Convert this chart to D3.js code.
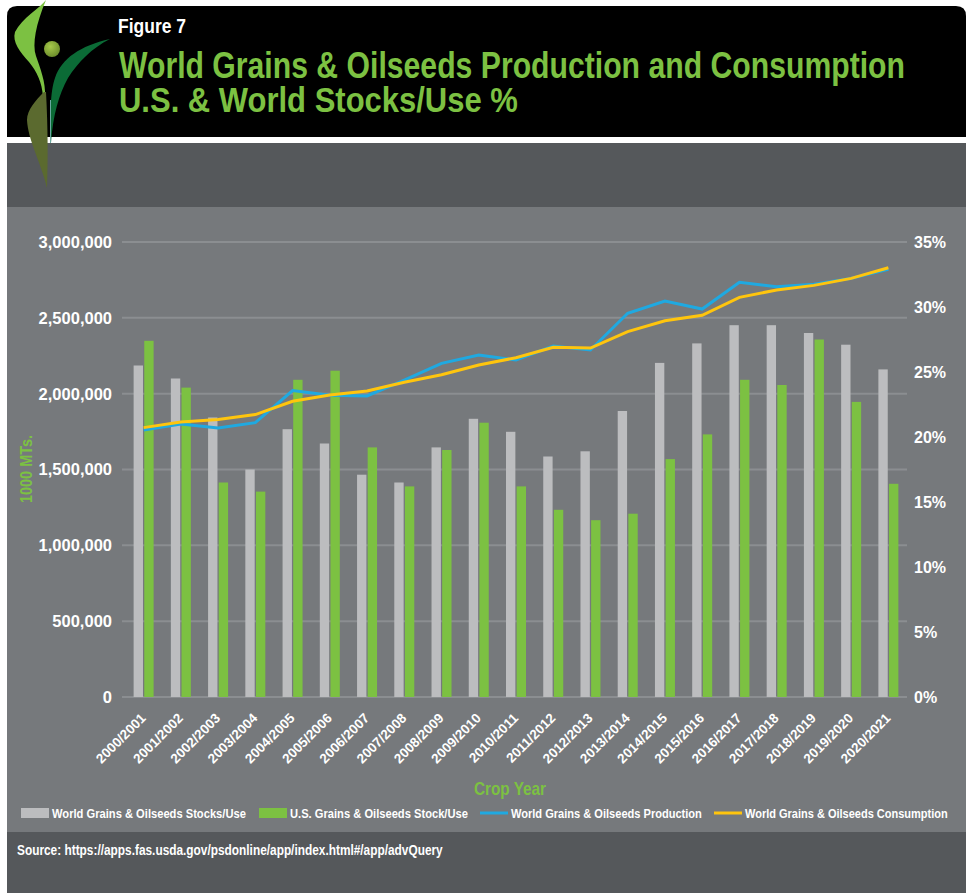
<!DOCTYPE html>
<html>
<head>
<meta charset="utf-8">
<script src="https://cdn.jsdelivr.net/npm/d3@7"></script>
<style>
  body { margin: 0; background: #fff; }
  svg text { font-family: "Liberation Sans", Arial, sans-serif; font-weight: bold; }
</style>
</head>
<body>
<script>
(function() {

  // crop years on the x axis
  var years = ["2000/2001", "2001/2002", "2002/2003", "2003/2004", "2004/2005", "2005/2006",
    "2006/2007", "2007/2008", "2008/2009", "2009/2010", "2010/2011", "2011/2012", "2012/2013",
    "2013/2014", "2014/2015", "2015/2016", "2016/2017", "2017/2018", "2018/2019", "2019/2020", "2020/2021"];

  // stocks/use in % (right axis)
  var worldStocksUse = [25.5, 24.5, 21.5, 17.5, 20.6, 19.5, 17.1, 16.5, 19.2, 21.4, 20.4,
    18.5, 18.9, 22.0, 25.7, 27.2, 28.6, 28.6, 28.0, 27.1, 25.2];
  var usStocksUse = [27.4, 23.8, 16.5, 15.8, 24.4, 25.1, 19.2, 16.2, 19.0, 21.1, 16.2,
    14.4, 13.6, 14.1, 18.3, 20.2, 24.4, 24.0, 27.5, 22.7, 16.4];

  // production / consumption in 1000 MT (left axis)
  var production = [1760000, 1800000, 1774000, 1809000, 2020000, 1990000, 1985000, 2090000,
    2200000, 2255000, 2222000, 2314000, 2288000, 2530000, 2611000, 2558000, 2734000, 2705000,
    2721000, 2760000, 2820000];
  var consumption = [1776000, 1813000, 1829000, 1862000, 1950000, 1991000, 2018000, 2075000,
    2125000, 2189000, 2237000, 2306000, 2301000, 2409000, 2481000, 2517000, 2635000, 2684000,
    2714000, 2760000, 2830000];

  var leftTicks = [0, 500000, 1000000, 1500000, 2000000, 2500000, 3000000];
  var rightTicks = [0, 5, 10, 15, 20, 25, 30, 35];

  var legendItems = [
    {label: "World Grains & Oilseeds Stocks/Use", type: "bar", color: "#bcbdbf", x: 21, w: 194},
    {label: "U.S. Grains & Oilseeds Stock/Use", type: "bar", color: "#7cc142", x: 259, w: 178},
    {label: "World Grains & Oilseeds Production", type: "line", color: "#1fa9e1", x: 480, w: 191},
    {label: "World Grains & Oilseeds Consumption", type: "line", color: "#ffc50d", x: 714, w: 203}
  ];

  var W = 966, H = 893;
  var green = "#7cc142";

  var svg = d3.select("body").append("svg")
      .attr("width", W)
      .attr("height", H);

  // squeeze a text horizontally to a given width (condensed face look)
  function condensed(parent, str, x, y, size, width, color, anchor, rot) {
    var t = parent.append("text")
        .attr("fill", color)
        .style("font-size", size + "px")
        .attr("text-anchor", anchor || "start")
        .text(str);
    var len = t.node().getComputedTextLength();
    var sx = width / len;
    t.attr("transform", "translate(" + x + "," + y + ")" + (rot ? "rotate(" + rot + ")" : "") + "scale(" + sx + ",1)");
    return t;
  }

  /* backgrounds */
  svg.append("path")
      .attr("d", "M7,137 L7,16 Q7,6 17,6 L956,6 Q966,6 966,16 L966,137 Z")
      .attr("fill", "#000");
  svg.append("rect").attr("x", 7).attr("y", 143).attr("width", W - 7).attr("height", 64).attr("fill", "#55585b");
  svg.append("rect").attr("x", 7).attr("y", 207).attr("width", W - 7).attr("height", 625).attr("fill", "#76797c");
  svg.append("rect").attr("x", 7).attr("y", 832).attr("width", W - 7).attr("height", H - 832).attr("fill", "#55585b");

  /* logo */
  var logo = svg.append("g");
  logo.append("path")
      .attr("d", "M46,0 C40,8 22,18 15,32 C12,42 20,52 29,62 C37,72 42,82 43,97 L45,97 C46,82 40,68 36,56 C32,44 36,24 46,0 Z")
      .attr("fill", "#7cc142");
  logo.append("path")
      .attr("d", "M44,92 C36,100 27,110 27,120 C28,140 40,160 47,188 C48,160 48,130 46,92 Z")
      .attr("fill", "#5b6a2f");
  logo.append("path")
      .attr("d", "M51,143 C50,118 50,92 55,78 C62,58 80,46 110,39 C92,48 78,62 68,78 C59,94 53,115 51,143 Z")
      .attr("fill", "#0b6b36");
  logo.append("line")
      .attr("x1", 50.5).attr("y1", 100).attr("x2", 50.5).attr("y2", 143)
      .attr("stroke", "#6aa8a0").attr("stroke-width", 1);
  var grad = svg.append("defs").append("radialGradient").attr("id", "ball")
      .attr("cx", "40%").attr("cy", "35%").attr("r", "70%");
  grad.append("stop").attr("offset", "0%").attr("stop-color", "#a6c94a");
  grad.append("stop").attr("offset", "100%").attr("stop-color", "#6a8a2a");
  logo.append("circle").attr("cx", 52).attr("cy", 49).attr("r", 8).attr("fill", "url(#ball)");

  /* titles */
  condensed(svg, "Figure 7", 118, 33, 21, 68, "#fff");
  condensed(svg, "World Grains & Oilseeds Production and Consumption", 119, 78, 36, 786, green);
  condensed(svg, "U.S. & World Stocks/Use %", 119, 112, 36, 399, green);

  /* scales */
  var x0 = d3.scaleBand().domain(years).range([125, 907]);
  var x1 = d3.scaleBand().domain(["world", "us"]).range([0, 20]).paddingInner(0.12);
  var yL = d3.scaleLinear().domain([0, 3000000]).range([697, 242]);
  var yR = d3.scaleLinear().domain([0, 35]).range([697, 242]);

  // gridlines
  svg.append("g").selectAll("line")
      .data(leftTicks)
    .enter().append("line")
      .attr("x1", 122).attr("x2", 907)
      .attr("y1", function(d) { return yL(d); })
      .attr("y2", function(d) { return yL(d); })
      .attr("stroke", "#8b8e91").attr("stroke-width", 2);

  // left axis labels
  svg.append("g").selectAll("text")
      .data(leftTicks)
    .enter().append("text")
      .attr("x", 112)
      .attr("y", function(d) { return yL(d); })
      .attr("dy", "0.36em")
      .attr("text-anchor", "end")
      .attr("fill", "#fff").style("font-size", "16.5px")
      .text(function(d) { return d3.format(",")(d); });

  // right axis labels
  svg.append("g").selectAll("text")
      .data(rightTicks)
    .enter().append("text")
      .attr("x", 914)
      .attr("y", function(d) { return yR(d); })
      .attr("dy", "0.36em")
      .attr("fill", "#fff").style("font-size", "16px")
      .text(function(d) { return d + "%"; });

  /* bars */
  var groups = svg.append("g").selectAll("g")
      .data(years)
    .enter().append("g")
      .attr("transform", function(d) {
        return "translate(" + (x0(d) + x0.bandwidth() / 2 - 10) + ",0)"; });

  groups.append("rect")
      .attr("x", x1("world"))
      .attr("width", x1.bandwidth())
      .attr("y", function(d, i) { return yR(worldStocksUse[i]); })
      .attr("height", function(d, i) { return yR(0) - yR(worldStocksUse[i]); })
      .attr("fill", "#bcbdbf");

  groups.append("rect")
      .attr("x", x1("us"))
      .attr("width", x1.bandwidth())
      .attr("y", function(d, i) { return yR(usStocksUse[i]); })
      .attr("height", function(d, i) { return yR(0) - yR(usStocksUse[i]); })
      .attr("fill", green);

  /* lines */
  var line = d3.line()
      .x(function(d, i) { return x0(years[i]) + x0.bandwidth() / 2; })
      .y(function(d) { return yL(d); });

  svg.append("path").datum(production)
      .attr("d", line)
      .attr("fill", "none").attr("stroke", "#1fa9e1").attr("stroke-width", 3);
  svg.append("path").datum(consumption)
      .attr("d", line)
      .attr("fill", "none").attr("stroke", "#ffc50d").attr("stroke-width", 3);

  /* x labels */
  svg.append("g").selectAll("text")
      .data(years)
    .enter().append("text")
      .attr("transform", function(d) {
        return "translate(" + (x0(d) + x0.bandwidth() / 2 + 3) + ",719)rotate(-45)"; })
      .attr("text-anchor", "end")
      .attr("fill", "#fff").style("font-size", "13.5px")
      .text(function(d) { return d; });

  // axis titles
  condensed(svg, "Crop Year", 510, 795, 18, 72, green, "middle");
  condensed(svg, "1000 MTs.", 32, 469, 16, 68, green, "middle", -90);

  /* legend */
  var leg = svg.append("g").selectAll("g")
      .data(legendItems)
    .enter().append("g")
      .attr("transform", function(d) { return "translate(" + d.x + ",0)"; });

  leg.filter(function(d) { return d.type == "bar"; }).append("rect")
      .attr("x", 0).attr("y", 808).attr("width", 28).attr("height", 10)
      .attr("fill", function(d) { return d.color; });
  leg.filter(function(d) { return d.type == "line"; }).append("line")
      .attr("x1", 0).attr("x2", 28).attr("y1", 813).attr("y2", 813)
      .attr("stroke", function(d) { return d.color; }).attr("stroke-width", 3);
  leg.each(function(d) {
    condensed(d3.select(this), d.label, 31, 818, 13, d.w, "#fff");
  });

  /* source */
  condensed(svg, "Source: https://apps.fas.usda.gov/psdonline/app/index.html#/app/advQuery", 17, 855, 15, 426, "#fff");

})();
</script>
</body>
</html>
